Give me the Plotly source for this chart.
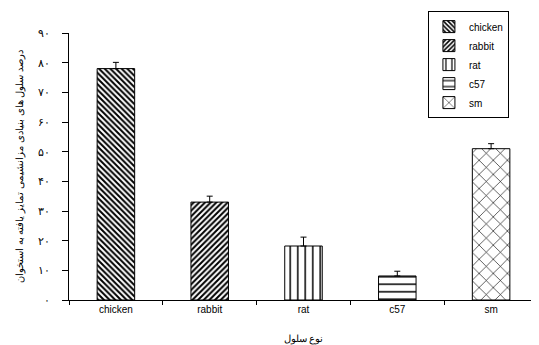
import plotly.graph_objects as go

categories = ["chicken", "rabbit", "rat", "c57", "sm"]
values = [78, 33, 18.2, 8.1, 51]
errors = [2.1, 2.0, 3.0, 1.6, 1.7]
ytick_vals = [0, 10, 20, 30, 40, 50, 60, 70, 80, 90]
ytick_text = ["۰", "۱۰", "۲۰", "۳۰", "۴۰", "۵۰", "۶۰", "۷۰", "۸۰", "۹۰"]
y_title = "درصد سلول های بنیادی مزانشیمی تمایز یافته به استخوان"
x_title = "نوع سلول"

patterns = [
    dict(shape="\\", size=4, solidity=0.5),
    dict(shape="/", size=4, solidity=0.5),
    dict(shape="|", size=7.5, solidity=0.2),
    dict(shape="-", size=7.5, solidity=0.2),
    dict(shape="x", size=10, solidity=0.12),
]

fig = go.Figure()
for i, c in enumerate(categories):
    p = patterns[i]
    fig.add_trace(go.Bar(
        x=[c], y=[values[i]], name=c, width=0.4,
        marker=dict(color="white", line=dict(color="black", width=1),
                    pattern=dict(shape=p["shape"], size=p["size"], solidity=p["solidity"],
                                 fgcolor="black", bgcolor="white", fillmode="replace")),
        error_y=dict(type="data", symmetric=False, array=[errors[i]], arrayminus=[0],
                     color="black", thickness=1, width=3),
        legendgroup=c,
    ))

fig.update_layout(
    width=531, height=337,
    margin=dict(l=61, r=1, t=25, b=45, autoexpand=False),
    plot_bgcolor="white", paper_bgcolor="white",
    font=dict(family="Liberation Sans, Arial", size=10, color="black"),
    showlegend=True,
    legend=dict(x=0.938, y=1.082, xanchor="right", yanchor="top",
                bordercolor="black", borderwidth=1, bgcolor="white",
                font=dict(size=10), tracegroupgap=0, itemwidth=30),
    bargap=0.6,
)
fig.update_xaxes(
    categoryorder="array", categoryarray=categories,
    showline=True, linecolor="black", linewidth=1,
    ticks="outside", tickson="boundaries", ticklen=4, tickcolor="black",
    title=dict(text=x_title, font=dict(size=10), standoff=20),
    tickfont=dict(size=10), automargin=False,
)
fig.update_yaxes(
    range=[0, 90], tickvals=ytick_vals, ticktext=ytick_text,
    showline=True, linecolor="black", linewidth=1,
    ticks="outside", ticklen=6, tickcolor="black",
    showgrid=False, zeroline=False, ticklabelstandoff=10,
    title=dict(text=y_title, font=dict(size=10), standoff=12),
    tickfont=dict(size=11), automargin=False,
)

fig.write_html("out.html")
